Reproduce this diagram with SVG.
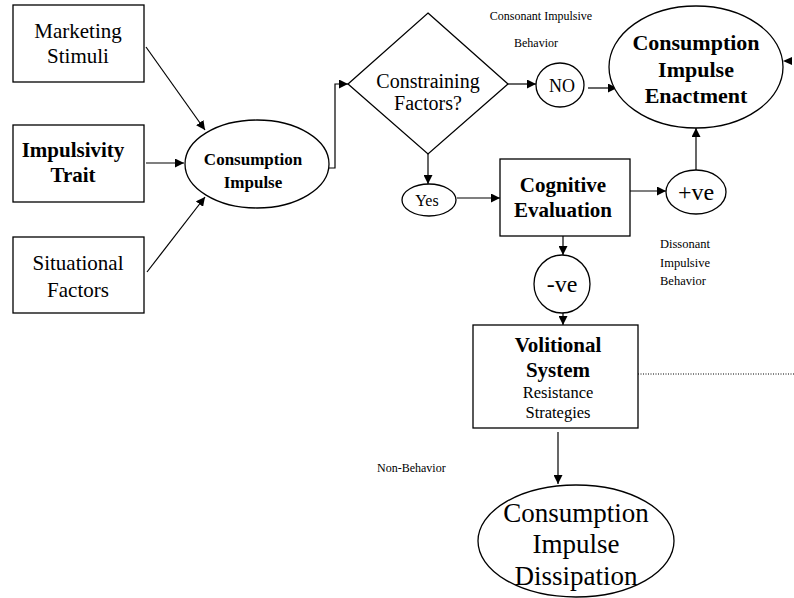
<svg xmlns="http://www.w3.org/2000/svg" width="794" height="598" viewBox="0 0 794 598">
<style>
.s{fill:#fff;stroke:#000;stroke-width:1.3}
text{font-family:"Liberation Serif","Times New Roman","DejaVu Serif",serif;fill:#000;text-anchor:middle}
.b{font-weight:bold}
.l{text-anchor:start}
.c{fill:none;stroke:#000;stroke-width:1.2}
</style>
<defs>
<marker id="a" viewBox="0 0 10 10" refX="10" refY="5" markerWidth="9" markerHeight="9" markerUnits="userSpaceOnUse" orient="auto"><path d="M0,0L10,5L0,10z" fill="#000"/></marker>
</defs>
<rect width="794" height="598" fill="#fff"/>
<g id="connectors">
<line class="c" x1="146" y1="47" x2="205" y2="130" marker-end="url(#a)"/>
<line class="c" x1="146" y1="163" x2="184" y2="163" marker-end="url(#a)"/>
<line class="c" x1="147" y1="272" x2="205" y2="197" marker-end="url(#a)"/>
<polyline class="c" points="329,168 335,168 335,84 348,84" marker-end="url(#a)"/>
<line class="c" x1="508" y1="84" x2="536" y2="84" marker-end="url(#a)"/>
<line class="c" x1="588" y1="88" x2="617" y2="88" marker-end="url(#a)"/>
<line class="c" x1="428" y1="154" x2="428" y2="184" marker-end="url(#a)"/>
<line class="c" x1="457" y1="198" x2="500" y2="198" marker-end="url(#a)"/>
<line class="c" x1="630" y1="191" x2="666" y2="191" marker-end="url(#a)"/>
<line class="c" x1="696" y1="170" x2="696" y2="128" marker-end="url(#a)"/>
<path d="M783,61L792,57L792,65z" fill="#000"/>
<line class="c" x1="563" y1="236" x2="563" y2="255" marker-end="url(#a)"/>
<line class="c" x1="563" y1="313" x2="563" y2="325" marker-end="url(#a)"/>
<line class="c" x1="558" y1="432" x2="558" y2="484" marker-end="url(#a)"/>
<line x1="638" y1="374" x2="794" y2="374" stroke="#000" stroke-width="1" stroke-dasharray="1,1.5"/>
</g>
<g id="marketing">
<rect class="s" x="13" y="5" width="131" height="77"/>
<text x="78" y="38" font-size="21">Marketing</text>
<text x="78" y="63" font-size="21">Stimuli</text>
</g>
<g id="impulsivity">
<rect class="s" x="13" y="125" width="131" height="77"/>
<text class="b" x="73" y="157" font-size="21">Impulsivity</text>
<text class="b" x="73" y="182" font-size="21">Trait</text>
</g>
<g id="situational">
<rect class="s" x="13" y="237" width="131" height="76"/>
<text x="78" y="270" font-size="21">Situational</text>
<text x="78" y="297" font-size="21">Factors</text>
</g>
<g id="impulse">
<ellipse class="s" cx="257" cy="164" rx="72" ry="44"/>
<text class="b" x="253" y="165" font-size="17">Consumption</text>
<text class="b" x="253" y="188" font-size="17">Impulse</text>
</g>
<g id="constraining">
<polygon class="s" points="428,13 508,84 428,154 348,84"/>
<text x="428" y="88" font-size="20">Constraining</text>
<text x="428" y="110" font-size="20">Factors?</text>
</g>
<g id="no">
<ellipse class="s" cx="560" cy="85" rx="24" ry="22"/>
<text x="562" y="92" font-size="18">NO</text>
</g>
<g id="enactment">
<ellipse class="s" cx="696" cy="67" rx="87" ry="61"/>
<text class="b" x="696" y="50" font-size="22">Consumption</text>
<text class="b" x="696" y="77" font-size="22">Impulse</text>
<text class="b" x="696" y="103" font-size="22">Enactment</text>
</g>
<g id="yes">
<ellipse class="s" cx="429" cy="200" rx="27" ry="16"/>
<text x="427" y="206" font-size="16">Yes</text>
</g>
<g id="cognitive">
<rect class="s" x="500" y="159" width="130" height="77"/>
<text class="b" x="563" y="192" font-size="21">Cognitive</text>
<text class="b" x="563" y="217" font-size="21">Evaluation</text>
</g>
<g id="positive">
<ellipse class="s" cx="696" cy="192" rx="30" ry="22"/>
<text x="696" y="200" font-size="24">+ve</text>
</g>
<g id="negative">
<ellipse class="s" cx="562" cy="284" rx="28" ry="29"/>
<text x="562" y="292" font-size="24">-ve</text>
</g>
<g id="volitional">
<rect class="s" x="473" y="325" width="165" height="103"/>
<text class="b" x="558" y="352" font-size="21">Volitional</text>
<text class="b" x="558" y="377" font-size="21">System</text>
<text x="558" y="398" font-size="16.5">Resistance</text>
<text x="558" y="418" font-size="16.5">Strategies</text>
</g>
<g id="dissipation">
<ellipse class="s" cx="576" cy="541" rx="98" ry="56"/>
<text x="576" y="522" font-size="27">Consumption</text>
<text x="576" y="553" font-size="27">Impulse</text>
<text x="576" y="585" font-size="27">Dissipation</text>
</g>
<g id="labels">
<text x="541" y="20" font-size="12">Consonant Impulsive</text>
<text x="536" y="47" font-size="12">Behavior</text>
<text class="l" x="660" y="248" font-size="12.5">Dissonant</text>
<text class="l" x="660" y="267" font-size="12.5">Impulsive</text>
<text class="l" x="660" y="285" font-size="12.5">Behavior</text>
<text class="l" x="377" y="472" font-size="12">Non-Behavior</text>
</g>
</svg>
